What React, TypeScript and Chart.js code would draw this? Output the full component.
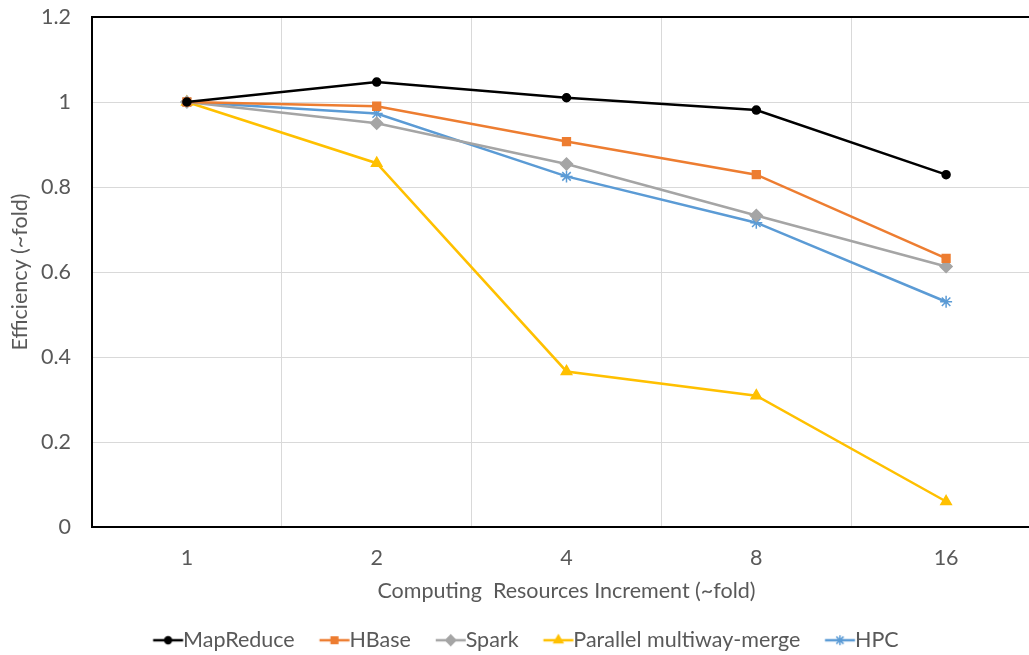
import React, { useEffect, useRef } from 'react';
import { Chart, registerables } from 'chart.js';
import { drawPoint } from 'chart.js/helpers';

Chart.register(...registerables);

// Resource scale-up factors on the x axis
const categories = ['1', '2', '4', '8', '16'];

// Efficiency per platform
const mapReduce = [1.0, 1.047, 1.01, 0.981, 0.829];
const hBase = [1.0, 0.99, 0.907, 0.829, 0.632];
const spark = [1.0, 0.95, 0.854, 0.733, 0.613];
const parallelMerge = [1.0, 0.856, 0.366, 0.309, 0.06];
const hpc = [1.0, 0.973, 0.825, 0.716, 0.53];

const yTickLabels = ['0', '0.2', '0.4', '0.6', '0.8', '1', '1.2'];

const FONT_FAMILY = 'Lato, "Open Sans", sans-serif';
const FONT_SIZE = 21.5;
const TEXT_COLOR = '#595959';
const GRID_COLOR = '#d9d9d9';

// Legend geometry
const LEGEND_PADDING = 14;
const LEGEND_BOX = 30;
const ICON_W = 100;
const ICON_H = 18;
const ICON_LINE = 30;

type SeriesDef = {
  label: string;
  data: number[];
  color: string;
  pointStyle: string;
  radius: number;
};

const series: SeriesDef[] = [
  { label: 'MapReduce', data: mapReduce, color: '#000000', pointStyle: 'circle', radius: 4 },
  { label: 'HBase', data: hBase, color: '#ED7D31', pointStyle: 'rect', radius: 5.5 },
  { label: 'Spark', data: spark, color: '#A5A5A5', pointStyle: 'rectRot', radius: 6 },
  { label: 'Parallel multiway-merge', data: parallelMerge, color: '#FFC000', pointStyle: 'triangle', radius: 6 },
  { label: 'HPC', data: hpc, color: '#5B9BD5', pointStyle: 'star', radius: 6 },
];

// Legend icon: a line segment ending where the label text begins, marker in the middle.
// The image is centred on the legend box, so the segment is shifted to sit just left of the text.
function legendIcon(s: SeriesDef): HTMLCanvasElement {
  const c = document.createElement('canvas');
  c.width = ICON_W;
  c.height = ICON_H;
  const ctx = c.getContext('2d')!;
  const boxLeft = ICON_W / 2 - LEGEND_BOX / 2;
  const textStart = boxLeft + LEGEND_BOX + FONT_SIZE / 2;
  const x0 = textStart - ICON_LINE;
  const cy = ICON_H / 2;
  ctx.strokeStyle = s.color;
  ctx.fillStyle = s.color;
  ctx.lineWidth = 2.5;
  ctx.beginPath();
  ctx.moveTo(x0, cy);
  ctx.lineTo(textStart, cy);
  ctx.stroke();
  ctx.lineWidth = 1.5;
  drawPoint(
    ctx,
    { pointStyle: s.pointStyle as any, radius: s.radius * 0.85, rotation: 0, borderWidth: 1.5 },
    x0 + ICON_LINE / 2,
    cy
  );
  return c;
}

export default function App() {
  const canvasRef = useRef<HTMLCanvasElement | null>(null);

  useEffect(() => {
    const canvas = canvasRef.current;
    if (!canvas) return;
    const icons = series.map(legendIcon);
    const font = { family: FONT_FAMILY, size: FONT_SIZE };

    const chart = new Chart(canvas, {
      type: 'line',
      data: {
        labels: categories,
        datasets: series.map((s) => ({
          label: s.label,
          data: s.data,
          borderColor: s.color,
          backgroundColor: s.color,
          borderWidth: 2.5,
          pointStyle: s.pointStyle as any,
          pointRadius: s.radius,
          pointBorderWidth: 1.5,
          pointBackgroundColor: s.color,
          pointBorderColor: s.color,
          tension: 0,
        })),
      },
      options: {
        responsive: false,
        animation: false,
        devicePixelRatio: 1,
        layout: { padding: { top: 17, right: 9, left: 0, bottom: 0 } },
        plugins: {
          tooltip: { enabled: false },
          legend: {
            position: 'bottom',
            labels: {
              usePointStyle: true,
              pointStyleWidth: LEGEND_BOX,
              padding: LEGEND_PADDING,
              color: TEXT_COLOR,
              font,
              generateLabels: (ch) =>
                ch.data.datasets.map((ds, i) => ({
                  text: ds.label as string,
                  fillStyle: series[i].color,
                  strokeStyle: series[i].color,
                  lineWidth: 0,
                  pointStyle: icons[i],
                  hidden: false,
                  datasetIndex: i,
                  fontColor: TEXT_COLOR,
                })),
            },
          },
        },
        scales: {
          x: {
            type: 'category',
            offset: true,
            grid: {
              offset: true,
              color: GRID_COLOR,
              lineWidth: 1,
              drawTicks: false,
            },
            border: { color: '#000000', width: 2 },
            afterFit: (scale: any) => {
              scale.height = 88.5;
            },
            ticks: {
              color: TEXT_COLOR,
              padding: 18,
              font,
            },
            title: {
              display: true,
              text: 'Computing  Resources Increment (~fold)',
              color: TEXT_COLOR,
              font,
              padding: { top: 0, bottom: 11.6 },
            },
          },
          y: {
            min: 0,
            max: 1.2,
            grid: {
              color: (ctx: any) => (ctx.tick && ctx.tick.value >= 1.2 - 1e-9 ? '#000000' : GRID_COLOR),
              lineWidth: (ctx: any) => (ctx.tick && ctx.tick.value >= 1.2 - 1e-9 ? 2 : 1),
              drawTicks: false,
            },
            border: { color: '#000000', width: 2 },
            afterFit: (scale: any) => {
              scale.width = 92;
              scale.paddingTop = 0;
              scale.paddingBottom = 0;
            },
            ticks: {
              stepSize: 0.2,
              color: TEXT_COLOR,
              padding: 21,
              font,
              callback: (_v: any, i: number) => yTickLabels[i],
            },
            title: {
              display: true,
              text: 'Efficiency (~fold)',
              color: TEXT_COLOR,
              font,
              padding: { top: 7, bottom: 0 },
            },
          },
        },
      },
    });
    return () => chart.destroy();
  }, []);

  return (
    <div
      style={{
        position: 'fixed',
        left: 0,
        top: 0,
        width: 1029,
        height: 655,
        overflow: 'hidden',
        background: '#ffffff',
      }}
    >
      <canvas
        ref={canvasRef}
        width={1050}
        height={661}
        style={{ position: 'absolute', left: 0, top: 0, width: '1050px', height: '661px' }}
      />
    </div>
  );
}
